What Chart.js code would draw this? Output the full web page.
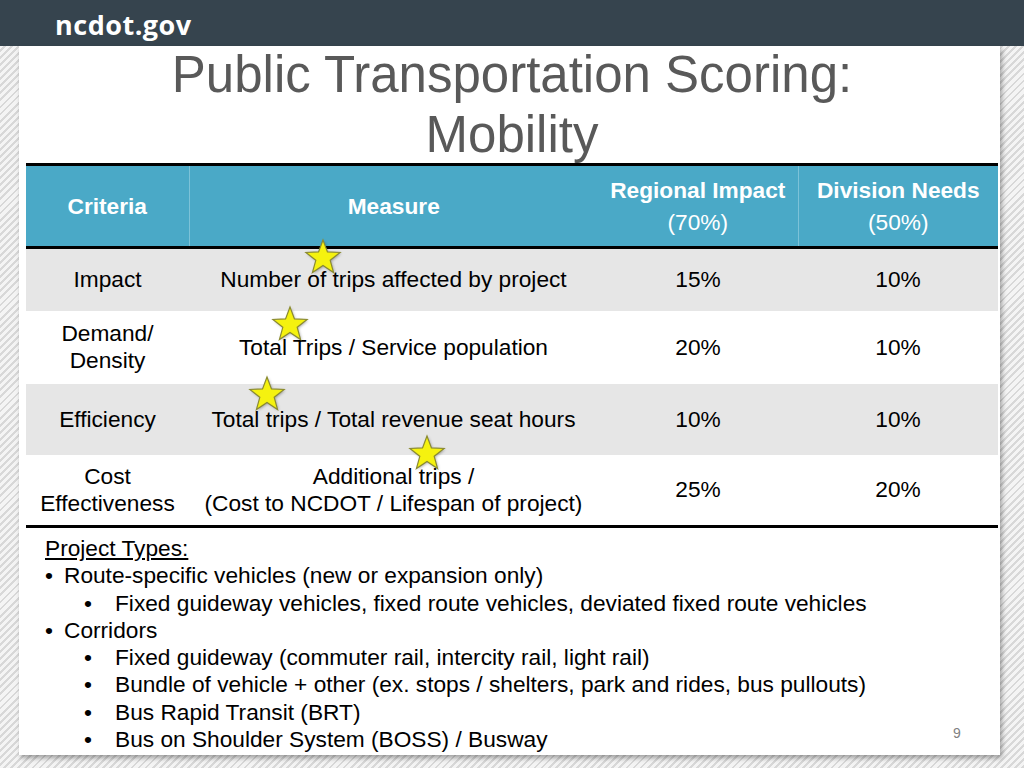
<!DOCTYPE html>
<html>
<head>
    <title>Public Transportation Scoring: Mobility</title>
    <script src="https://cdn.jsdelivr.net/npm/chart.js"></script>
    <style>
        html, body {
            margin: 0;
            padding: 0;
        }

        body {
            width: 1024px;
            height: 768px;
            position: relative;
            overflow: hidden;
            font-family: "Liberation Sans", Arial, sans-serif;
            background: repeating-linear-gradient(135deg, #d8d8d8 0px, #d8d8d8 2px, #f4f4f4 2px, #f4f4f4 5px);
        }

        #topbar {
            position: absolute;
            left: 0; top: 0;
            width: 1024px; height: 46px;
            background: #36444e;
        }

        #logo {
            position: absolute;
            left: 55px; top: 6px;
            color: #fff;
            font-family: "Open Sans", sans-serif;
            font-weight: 700;
            font-size: 27px;
            letter-spacing: 0.5px;
        }

        #slide {
            position: absolute;
            left: 19px; top: 46px;
            width: 981px; height: 709px;
            background: #fff;
            box-shadow: 2px 3px 5px rgba(0,0,0,0.35);
        }

        #title {
            position: absolute;
            left: 0; top: 45px;
            width: 1024px;
            text-align: center;
            color: #595959;
            font-size: 51px;
            line-height: 60px;
        }

        #tbl {
            position: absolute;
            left: 26px; top: 163px;
            width: 972px;
            border-collapse: collapse;
            font-size: 22.7px;
            color: #000;
        }

        #tbl td, #tbl th {
            padding: 0;
            text-align: center;
            vertical-align: middle;
            line-height: 27px;
            white-space: nowrap;
        }

        #tbl thead tr {
            background: #4aa9c7;
            color: #fff;
            height: 83px;
            border-top: 3px solid #000;
            border-bottom: 3px solid #000;
        }

        #tbl thead th {
            font-weight: 700;
            line-height: 32px;
            border-right: 1px solid #7cc2d8;
        }

        #tbl thead th:last-child { border-right: none; }
        #tbl thead th.nosep { border-right: none; }
        #tbl thead .sub { font-weight: 400; }

        #tbl tbody tr:nth-child(odd) { background: #e6e6e6; }
        #tbl tbody tr:last-child { border-bottom: 3px solid #000; }

        #types {
            position: absolute;
            left: 45px; top: 535px;
            font-size: 22.7px;
            line-height: 27.3px;
            color: #000;
        }

        #types .hd { text-decoration: underline; }
        #types .l1 { padding-left: 0; }
        #types .l1 .b { display: inline-block; width: 19px; }
        #types .l2 { padding-left: 39px; }
        #types .l2 .b { display: inline-block; width: 31px; }

        #pageno {
            position: absolute;
            left: 953px; top: 725px;
            font-size: 14px;
            color: #7f7f7f;
        }

        #starLayer {
            position: absolute;
            left: 0; top: 0;
            width: 1024px; height: 768px;
            pointer-events: none;
        }
    </style>
</head>
<body>
    <div id="topbar"><div id="logo">ncdot.gov</div></div>
    <div id="slide"></div>
    <div id="title">Public Transportation Scoring:<br>Mobility</div>

    <table id="tbl">
        <thead>
            <tr>
                <th style="width:163px">Criteria</th>
                <th style="width:409px" class="nosep">Measure</th>
                <th style="width:200px">Regional Impact<br><span class="sub">(70%)</span></th>
                <th style="width:200px">Division Needs<br><span class="sub">(50%)</span></th>
            </tr>
        </thead>
        <tbody id="tblBody"></tbody>
    </table>

    <div id="types"></div>
    <div id="pageno">9</div>

    <div id="starLayer"><canvas id="stars" width="1024" height="768"></canvas></div>

    <script>
        // table content
        const criteria = ['Impact', 'Demand/<br>Density', 'Efficiency', 'Cost<br>Effectiveness'];
        const measures = [
            'Number of trips affected by project',
            'Total Trips / Service population',
            'Total trips / Total revenue seat hours',
            'Additional trips /<br>(Cost to NCDOT / Lifespan of project)'
        ];
        const regionalImpact = [15, 20, 10, 25];
        const divisionNeeds = [10, 10, 10, 20];
        const rowHeights = [63, 73, 71, 72];

        // project types list: [level, text]
        const projectTypes = [
            [1, 'Route-specific vehicles (new or expansion only)'],
            [2, 'Fixed guideway vehicles, fixed route vehicles, deviated fixed route vehicles'],
            [1, 'Corridors'],
            [2, 'Fixed guideway (commuter rail, intercity rail, light rail)'],
            [2, 'Bundle of vehicle + other (ex. stops / shelters, park and rides, bus pullouts)'],
            [2, 'Bus Rapid Transit (BRT)'],
            [2, 'Bus on Shoulder System (BOSS) / Busway']
        ];

        // star markers (page units)
        const starX = [323, 290, 267, 427];
        const starY = [257, 324, 394, 453];

        // build table rows
        const body = document.getElementById('tblBody');
        criteria.forEach((c, i) => {
            const tr = document.createElement('tr');
            tr.style.height = rowHeights[i] + 'px';
            tr.innerHTML = '<td>' + c + '</td><td>' + measures[i] + '</td>' +
                '<td>' + regionalImpact[i] + '%</td><td>' + divisionNeeds[i] + '%</td>';
            body.appendChild(tr);
        });

        // build project type list
        const types = document.getElementById('types');
        let html = '<div class="hd">Project Types:</div>';
        projectTypes.forEach(p => {
            html += '<div class="l' + p[0] + '"><span class="b">&bull;</span>' + p[1] + '</div>';
        });
        types.innerHTML = html;

        // filled star image used as point style
        function makeStar(size) {
            const c = document.createElement('canvas');
            c.width = size; c.height = size;
            const g = c.getContext('2d');
            const cx = size / 2, cy = size / 2 + 1;
            const R = size / 2 - 2, r = R * 0.42;
            g.beginPath();
            for (let k = 0; k < 10; k++) {
                const rad = k % 2 === 0 ? R : r;
                const a = -Math.PI / 2 + k * Math.PI / 5;
                const px = cx + rad * Math.cos(a), py = cy + rad * Math.sin(a);
                if (k === 0) g.moveTo(px, py); else g.lineTo(px, py);
            }
            g.closePath();
            g.shadowColor = 'rgba(0,0,0,0.35)';
            g.shadowBlur = 3;
            g.shadowOffsetX = 1;
            g.shadowOffsetY = 1;
            g.fillStyle = '#f5f20f';
            g.fill();
            g.shadowColor = 'transparent';
            g.lineWidth = 1.2;
            g.strokeStyle = '#8a8a30';
            g.stroke();
            return c;
        }

        const starImg = makeStar(40);

        new Chart(document.getElementById('stars').getContext('2d'), {
            type: 'scatter',
            data: {
                datasets: [{
                    data: starX.map((x, i) => ({ x: x, y: starY[i] })),
                    pointStyle: starImg,
                    pointRadius: 20
                }]
            },
            options: {
                responsive: false,
                animation: false,
                events: [],
                layout: { padding: 0, autoPadding: false },
                plugins: { legend: { display: false }, tooltip: { enabled: false } },
                scales: {
                    x: { type: 'linear', min: 0, max: 1024, display: false },
                    y: { type: 'linear', min: 0, max: 768, reverse: true, display: false }
                }
            }
        });
    </script>
</body>
</html>
